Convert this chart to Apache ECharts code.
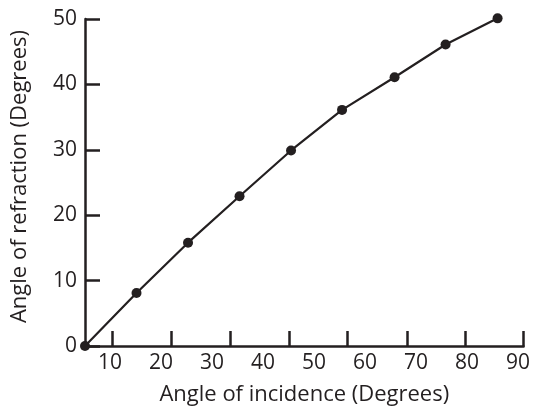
<!DOCTYPE html>
<html>
<head>
<meta charset="utf-8">
<script src="https://cdn.jsdelivr.net/npm/echarts@6/dist/echarts.min.js"></script>
<style>html,body{margin:0;padding:0;background:#fff}#c{width:533px;height:411px}</style>
</head>
<body>
<div id="c"></div>
<script>
const incidence = [5.1, 15.2, 25.3, 35.4, 45.5, 55.5, 65.8, 75.8, 86.0];
const refraction = [0, 8.1, 15.8, 22.9, 29.9, 36.1, 41.1, 46.1, 50.1];
const xLabels = [10, 20, 30, 40, 50, 60, 70, 80, 90];
const xTicks = [10.45, 22.0, 33.6, 45.1, 56.6, 68.2, 79.7, 91.1];
const yTicks = [0, 10, 20, 30, 40, 50];

const ink = '#231f20';
const font = 'Open Sans';
const chart = echarts.init(document.getElementById('c'), null, {renderer: 'canvas'});
chart.setOption({
  animation: false,
  backgroundColor: '#fff',
  grid: {left: 85, right: 9, top: 19, bottom: 65, containLabel: false},
  xAxis: {
    type: 'value', min: 5.1, max: 91.1,
    name: 'Angle of incidence (Degrees)', nameLocation: 'middle', nameGap: 38,
    nameTextStyle: {color: ink, fontFamily: font, fontSize: 22},
    axisLine: {show: true, lineStyle: {color: ink, width: 2.5}},
    axisTick: {show: true, inside: true, length: 15, customValues: xTicks, lineStyle: {color: ink, width: 2.5}},
    axisLabel: {customValues: xLabels, color: ink, fontFamily: font, fontSize: 21, margin: 7},
    splitLine: {show: false}
  },
  yAxis: {
    type: 'value', min: 0, max: 50, interval: 10,
    name: 'Angle of refraction (Degrees)', nameLocation: 'middle', nameGap: 54,
    nameTextStyle: {color: ink, fontFamily: font, fontSize: 22, padding: [0, 0, 0, 12]},
    axisLine: {show: true, lineStyle: {color: ink, width: 2.5}},
    axisTick: {show: true, inside: true, length: 15, lineStyle: {color: ink, width: 2.5}},
    axisLabel: {color: ink, fontFamily: font, fontSize: 21, margin: 8, showMinLabel: true, showMaxLabel: true},
    splitLine: {show: false}
  },
  series: [{
    type: 'line',
    data: incidence.map((x, i) => [x, refraction[i]]),
    symbol: 'circle', symbolSize: 10, clip: false,
    lineStyle: {color: ink, width: 2.2},
    itemStyle: {color: ink}
  }]
});
</script>
</body>
</html>
